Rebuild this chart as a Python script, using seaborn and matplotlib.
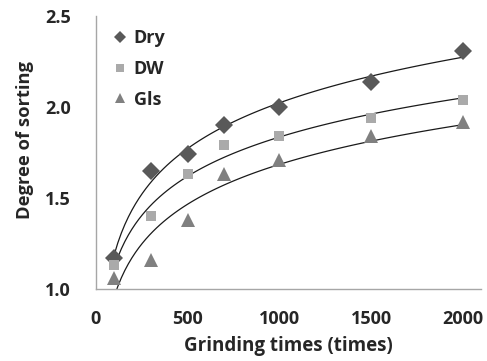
import matplotlib
matplotlib.use("Agg")
import matplotlib.pyplot as plt
import seaborn as sns
import pandas as pd

# Grinding times and measured degree of sorting for each milling condition
grinding_times = [100, 300, 500, 700, 1000, 1500, 2000]
dry = [1.17, 1.65, 1.74, 1.90, 2.00, 2.14, 2.31]
dw = [1.13, 1.40, 1.63, 1.79, 1.84, 1.94, 2.04]
gls = [1.06, 1.16, 1.38, 1.63, 1.71, 1.84, 1.92]

series = [
    ("Dry", dry, "D", "#595959", 9.0),
    ("DW", dw, "s", "#AAAAAA", 7.5),
    ("Gls", gls, "^", "#808080", 10.0),
]

FS = 13

sns.set_theme(style="white")
plt.rcParams["font.family"] = ["Open Sans", "DejaVu Sans"]
plt.rcParams["font.weight"] = "bold"

fig, ax = plt.subplots(figsize=(4.87, 3.61), dpi=100)

for name, values, marker, color, size in series:
    df = pd.DataFrame({"t": grinding_times, "v": values})
    # logarithmic trendline fitted to each series
    sns.regplot(data=df, x="t", y="v", logx=True, ci=None, scatter=False,
                truncate=True, ax=ax,
                line_kws={"color": "#1a1a1a", "lw": 0.9, "zorder": 2})
    ax.plot(df["t"], df["v"], linestyle="none", marker=marker, color=color,
            markersize=size, markeredgewidth=0, label=name, zorder=3)

ax.set_xlim(0, 2100)
ax.set_ylim(1.0, 2.5)
ax.set_xticks([0, 500, 1000, 1500, 2000])
ax.set_yticks([1.0, 1.5, 2.0, 2.5])
ax.set_yticklabels(["1.0", "1.5", "2.0", "2.5"])

for side in ("top", "right"):
    ax.spines[side].set_visible(False)
for side in ("left", "bottom"):
    ax.spines[side].set_color("#A6A6A6")
    ax.spines[side].set_linewidth(1.0)

ax.tick_params(axis="both", which="major", direction="out", length=5,
               width=1.0, color="#A6A6A6", labelsize=FS)
ax.tick_params(axis="y", pad=13)
ax.tick_params(axis="x", pad=10)
for lab in ax.get_xticklabels() + ax.get_yticklabels():
    lab.set_fontweight("bold")

ax.set_xlabel("Grinding times (times)", fontsize=13.5, fontweight="bold")
ax.set_ylabel("Degree of sorting", fontsize=13.2, fontweight="bold")
ax.xaxis.set_label_coords(0.499, -0.175)
ax.yaxis.set_label_coords(-0.16, 0.545)

leg = ax.legend(loc="upper left", bbox_to_anchor=(0.039, 0.952),
                frameon=False, fontsize=FS, handlelength=1.0,
                handletextpad=0.25, labelspacing=0.7, markerscale=0.72,
                borderaxespad=0, borderpad=0)
for t in leg.get_texts():
    t.set_fontweight("bold")

fig.subplots_adjust(left=0.197, right=0.988, bottom=0.2, top=0.955)
fig.savefig("out.png", dpi=100)
